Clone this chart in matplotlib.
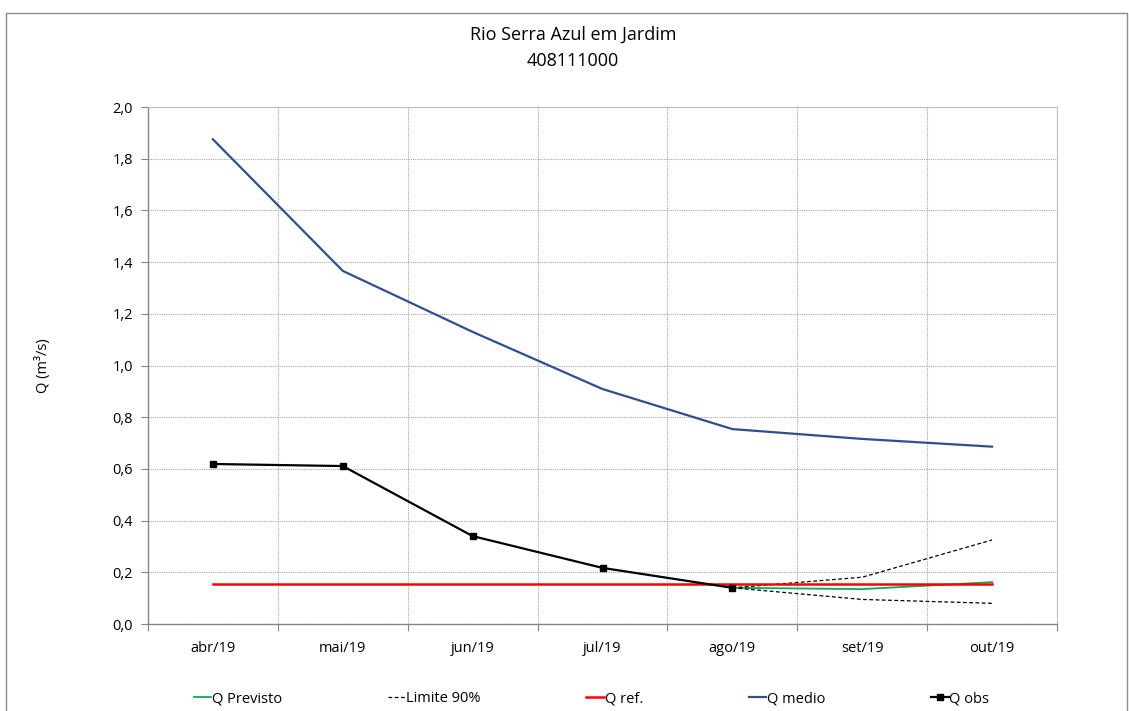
import matplotlib
matplotlib.use("Agg")
import matplotlib.pyplot as plt
from matplotlib.patches import Rectangle

plt.rcParams['font.family'] = ['Open Sans', 'DejaVu Sans']

months = ["abr/19", "mai/19", "jun/19", "jul/19", "ago/19", "set/19", "out/19"]
q_medio = [1.875, 1.366, 1.13, 0.909, 0.754, 0.716, 0.686]
q_obs = [0.619, 0.611, 0.340, 0.217, 0.140]
q_ref = [0.156] * 7
q_prev = [0.140, 0.135, 0.162]
lim_sup = [0.140, 0.181, 0.325]
lim_inf = [0.140, 0.095, 0.080]

x = list(range(len(months)))
xf = x[4:]

fig = plt.figure(figsize=(11.29, 7.11), dpi=100)
fig.patches.append(Rectangle((6/1129, -0.05), (1127-6)/1129, 0.05 + (711-13)/711,
                             transform=fig.transFigure, fill=False,
                             edgecolor='#8c8c8c', linewidth=1.0))
ax = fig.add_axes([148/1129, 1-624/711, (1057-148)/1129, (624-107)/711])

ax.plot(xf, q_prev, color='#00b050', lw=1.3, label='Q Previsto', zorder=3)
ax.plot(xf, lim_sup, color='black', lw=0.9, ls=(0, (3, 2)), label='Limite 90%', zorder=3)
ax.plot(xf, lim_inf, color='black', lw=0.9, ls=(0, (3, 2)), zorder=3)
ax.plot(x, q_ref, color='#ff0000', lw=1.8, label='Q ref.', zorder=4)
ax.plot(x, q_medio, color='#2f4f8f', lw=1.6, label='Q medio', zorder=3)
ax.plot(x[:len(q_obs)], q_obs, color='black', lw=1.6, marker='s', ms=4.5, label='Q obs', zorder=5)

ax.set_xlim(-0.5, 6.5)
ax.set_ylim(0, 2.0)
ax.set_yticks([i * 0.2 for i in range(11)])
ax.set_yticklabels([f"{i*0.2:.1f}".replace('.', ',') for i in range(11)], fontsize=10.5)
ax.set_xticks([i - 0.5 for i in range(8)])
ax.set_xticklabels([])
ax.set_xticks(x, minor=True)
ax.set_xticklabels(months, minor=True, fontsize=10.5)
ax.tick_params(axis='x', which='minor', length=0, pad=12)
ax.tick_params(axis='x', which='major', length=5, direction='out', color='#868686')
ax.tick_params(axis='y', length=5, direction='out', color='#868686', pad=6)
ax.grid(True, which='major', color='#a6a6a6', ls=(0, (1, 1)), lw=0.8)
for s in ['top', 'right']:
    ax.spines[s].set_color('#bfbfbf')
    ax.spines[s].set_linewidth(0.8)
for s in ['left', 'bottom']:
    ax.spines[s].set_color('#868686')
    ax.spines[s].set_linewidth(1.0)

ax.set_ylabel('Q (m³/s)', fontsize=10.5, labelpad=44)
fig.text(573/1129, 1-35/711, 'Rio Serra Azul em Jardim', ha='center', va='center', fontsize=13)
fig.text(573/1129, 1-61/711, '408111000', ha='center', va='center', fontsize=13)

ax.legend(loc='center', bbox_to_anchor=(0.488, -0.145), ncol=5, frameon=False,
          fontsize=10.5, handlelength=1.2, handletextpad=0.05, columnspacing=7.25)

fig.savefig('out.png', dpi=100)
